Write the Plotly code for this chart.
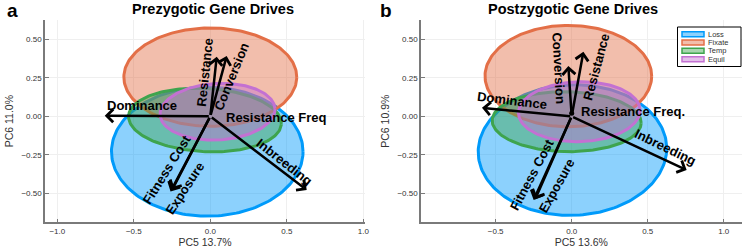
import numpy as np
import plotly.graph_objects as go

# ---------------- data ----------------
groups = ["Loss", "Fixate", "Temp", "Equil"]
colors = ["#009AFA", "#E36F47", "#3EA44E", "#C371D2"]

# ellipse parameters (centre x, centre y, semi-axis x, semi-axis y, tilt deg)
a_cx = [-0.02, 0.0, -0.035, 0.047]
a_cy = [-0.23, 0.255, -0.024, 0.03]
a_rx = [0.626, 0.565, 0.50, 0.376]
a_ry = [0.42, 0.32, 0.206, 0.184]
a_tilt = [0.0, 0.0, -3.0, 3.0]

b_cx = [0.005, -0.022, -0.033, 0.05]
b_cy = [-0.22, 0.262, -0.035, 0.03]
b_rx = [0.62, 0.548, 0.49, 0.40]
b_ry = [0.425, 0.33, 0.195, 0.195]
b_tilt = [2.0, 0.0, -1.0, 1.5]

# loading vectors (arrow tips)
vec_names = ["Dominance", "Resistance", "Conversion", "Resistance Freq", "Fitness Cost", "Exposure", "Inbreeding"]
a_vx = [-0.69, 0.042, 0.107, 0.01, -0.26, -0.25, 0.63]
a_vy = [0.004, 0.388, 0.393, -0.005, -0.49, -0.48, -0.48]
b_vx = [-0.59, 0.077, -0.022, 0.0, -0.25, -0.24, 0.756]
b_vy = [0.055, 0.42, 0.327, 0.02, -0.545, -0.54, -0.35]

# label positions / angles
a_labels = ["Dominance", "Resistance", "Conversion", "Resistance Freq", "Fitness Cost", "Exposure", "Inbreeding"]
a_lx = [-0.446, -0.038, 0.14, 0.43, -0.286, -0.165, 0.488]
a_ly = [0.069, 0.288, 0.258, -0.005, -0.343, -0.473, -0.30]
a_la = [0, -84, -68, 0, -58, -57, 38]

b_labels = ["Dominance", "Resistance", "Conversion", "Resistance Freq.", "Fitness Cost", "Exposure", "Inbreeding"]
b_lx = [-0.393, 0.164, -0.084, 0.40, -0.263, -0.103, 0.62]
b_ly = [0.10, 0.323, 0.3125, 0.03, -0.376, -0.454, -0.203]
b_la = [7, -75, 87, 0, -62, -61, 26]

x_ticks_a = [-1.0, -0.5, 0.0, 0.5, 1.0]
x_ticks_b = [-0.5, 0.0, 0.5, 1.0]
y_ticks = [-0.5, -0.25, 0.0, 0.25, 0.5]

titles = ["Prezygotic Gene Drives", "Postzygotic Gene Drives"]
xtitles = ["PC5 13.7%", "PC5 13.6%"]
ytitles = ["PC6 11.0%", "PC6 10.9%"]
panel_letters = ["a", "b"]

FONT = "Liberation Sans, Arial, sans-serif"
W, H = 750, 250


def hex_rgba(h, a):
    h = h.lstrip("#")
    return f"rgba({int(h[0:2],16)},{int(h[2:4],16)},{int(h[4:6],16)},{a})"


def ellipse(cx, cy, rx, ry, tilt):
    t = np.linspace(0, 2 * np.pi, 200)
    th = np.deg2rad(tilt)
    x0 = rx * np.cos(t)
    y0 = ry * np.sin(t)
    return cx + x0 * np.cos(th) - y0 * np.sin(th), cy + x0 * np.sin(th) + y0 * np.cos(th)


def px(x):
    return x / W


def py(y):
    return 1 - y / H


fig = go.Figure()

panels = [
    dict(cx=a_cx, cy=a_cy, rx=a_rx, ry=a_ry, tilt=a_tilt, vx=a_vx, vy=a_vy,
         labels=a_labels, lx=a_lx, ly=a_ly, la=a_la, xa="x", ya="y"),
    dict(cx=b_cx, cy=b_cy, rx=b_rx, ry=b_ry, tilt=b_tilt, vx=b_vx, vy=b_vy,
         labels=b_labels, lx=b_lx, ly=b_ly, la=b_la, xa="x2", ya="y2"),
]

annotations = []
shapes = []
for p in panels:
    for i, g in enumerate(groups):
        ex, ey = ellipse(p["cx"][i], p["cy"][i], p["rx"][i], p["ry"][i], p["tilt"][i])
        fig.add_trace(go.Scatter(
            x=ex, y=ey, mode="lines", fill="toself",
            fillcolor=hex_rgba(colors[i], 0.45),
            line=dict(color=colors[i], width=3),
            name=g, showlegend=False, xaxis=p["xa"], yaxis=p["ya"],
            hoverinfo="skip"))
    for i in range(len(p["vx"])):
        annotations.append(dict(
            x=p["vx"][i], y=p["vy"][i], ax=0, ay=0,
            xref=p["xa"], yref=p["ya"], axref=p["xa"], ayref=p["ya"],
            text="", showarrow=True, arrowhead=4, arrowsize=1.0,
            arrowwidth=2.5, arrowcolor="black"))
    for i, lab in enumerate(p["labels"]):
        annotations.append(dict(
            x=p["lx"][i], y=p["ly"][i], xref=p["xa"], yref=p["ya"],
            text=f"<b>{lab}</b>", showarrow=False, textangle=p["la"][i],
            xanchor="center", yanchor="middle",
            font=dict(family=FONT, size=13, color="black")))

# dot at the short vector in panel b
fig.add_trace(go.Scatter(x=[b_vx[3]], y=[b_vy[3]], mode="markers",
                         marker=dict(color="black", size=5), showlegend=False,
                         xaxis="x2", yaxis="y2", hoverinfo="skip"))

# titles and panel letters
title_x = [213, 572.5]
letter_x = [12.5, 385.5]
for k in range(2):
    annotations.append(dict(x=px(title_x[k]), y=py(9), xref="paper", yref="paper",
                            xanchor="center", yanchor="middle",
                            text=f"<b>{titles[k]}</b>", showarrow=False,
                            font=dict(family=FONT, size=14.5, color="black")))
    annotations.append(dict(x=px(letter_x[k]), y=py(10), xref="paper", yref="paper",
                            xanchor="center", yanchor="middle",
                            text=f"<b>{panel_letters[k]}</b>", showarrow=False,
                            font=dict(family=FONT, size=19, color="black")))

# custom legend (panel b, top right)
shapes.append(dict(type="rect", xref="paper", yref="paper",
                   x0=px(677.5), x1=px(741), y0=py(66.5), y1=py(27),
                   line=dict(color="black", width=1), fillcolor="white", layer="above"))
leg_rows = [34.3, 42.5, 50.8, 59.2]
for i, g in enumerate(groups):
    yc = leg_rows[i]
    shapes.append(dict(type="rect", xref="paper", yref="paper",
                       x0=px(682), x1=px(704), y0=py(yc + 2.5), y1=py(yc - 2.5),
                       line=dict(color=colors[i], width=1.5),
                       fillcolor=hex_rgba(colors[i], 0.45), layer="above"))
    annotations.append(dict(x=px(706), y=py(yc), xref="paper", yref="paper",
                            xanchor="left", yanchor="middle", text=g, showarrow=False,
                            font=dict(family=FONT, size=7.5, color="#333333")))

axis_common = dict(showline=True, linecolor="#7a7a7a", linewidth=1.5, mirror=False,
                   ticks="inside", ticklen=4, tickcolor="#7a7a7a", automargin=False,
                   showgrid=True, gridcolor="#efefef", gridwidth=1, zeroline=False,
                   tickfont=dict(family=FONT, size=8, color="#333333"),
                   title_font=dict(family=FONT, size=10.5, color="#333333"))

ydom = [1 - 222.3 / H, 1 - 20 / H]
fig.update_layout(
    width=W, height=H,
    margin=dict(l=0, r=0, t=0, b=0, autoexpand=False),
    paper_bgcolor="white", plot_bgcolor="white",
    showlegend=False,
    annotations=annotations,
    shapes=shapes,
    xaxis=dict(domain=[45 / W, 365 / W], range=[-1.0804, 1.0111],
               tickvals=x_ticks_a, tickformat=".1f",
               title=dict(text=xtitles[0], standoff=2), anchor="y", **axis_common),
    yaxis=dict(domain=ydom, range=[-0.690, 0.627], tickvals=y_ticks, tickformat=".2f",
               title=dict(text=ytitles[0], standoff=6), anchor="x", **axis_common),
    xaxis2=dict(domain=[421 / W, 741.7 / W], range=[-0.991, 1.118],
                tickvals=x_ticks_b, tickformat=".1f",
                title=dict(text=xtitles[1], standoff=2), anchor="y2", **axis_common),
    yaxis2=dict(domain=ydom, range=[-0.690, 0.627], tickvals=y_ticks, tickformat=".2f",
                title=dict(text=ytitles[1], standoff=6), anchor="x2", **axis_common),
)

fig.write_html("out.html", config={"displayModeBar": False},
               post_script="document.body.style.margin='0';document.body.style.overflow='hidden';")
